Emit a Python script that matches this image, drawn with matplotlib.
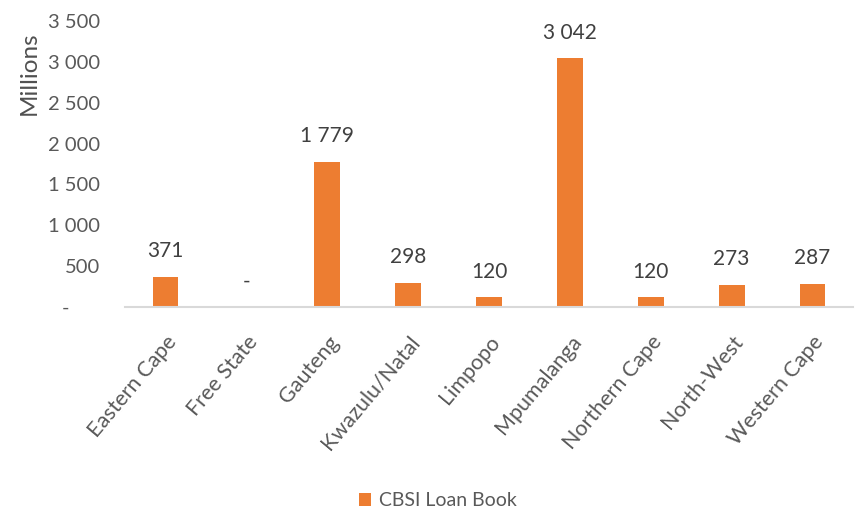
import matplotlib
matplotlib.use("Agg")
import matplotlib.pyplot as plt
from matplotlib.ticker import FuncFormatter

provinces = ["Eastern Cape", "Free State", "Gauteng", "Kwazulu/Natal", "Limpopo",
             "Mpumalanga", "Northern Cape", "North-West", "Western Cape"]
loan_book = [371, 0, 1779, 298, 120, 3042, 120, 273, 287]
series_name = "CBSI Loan Book"

plt.rcParams['font.family'] = ['Lato', 'DejaVu Sans']
grey = '#595959'
orange = '#ED7D31'


def fmt_num(v):
    if v == 0:
        return "-"
    return f"{int(round(v)):,}".replace(",", " ")


fig = plt.figure(figsize=(8.56, 5.15), dpi=100)
ax = fig.add_axes([125 / 856, 1 - 307 / 515, (853 - 125) / 856, (307 - 21) / 515])

x = range(len(provinces))
bars = ax.bar(x, loan_book, width=0.32, color=orange, label=series_name, zorder=2)

for xi, v in zip(x, loan_book):
    ax.annotate(fmt_num(v), (xi, v), xytext=(0, 11), textcoords='offset points',
                ha='center', va='bottom', fontsize=15, color='#404040')

ax.set_xlim(-0.5, len(provinces) - 0.5)
ax.set_ylim(0, 3500)
ax.set_yticks(range(0, 3501, 500))
ax.yaxis.set_major_formatter(FuncFormatter(lambda v, p: fmt_num(v) + ("      " if v == 0 else "")))
ax.set_xticks(list(x))
ax.set_xticklabels(provinces, rotation=50, ha='right', va='top', rotation_mode='anchor')

ax.tick_params(axis='y', length=0, pad=18, labelsize=14.5, labelcolor=grey)
ax.tick_params(axis='x', length=0, pad=18, labelsize=15.5, labelcolor=grey)

for side in ['top', 'right', 'left']:
    ax.spines[side].set_visible(False)
ax.spines['bottom'].set_color('#D9D9D9')
ax.spines['bottom'].set_linewidth(1.5)

fig.text(29 / 856, 1 - 73 / 515, "Millions", rotation=90, ha='center', va='center',
         fontsize=17.5, color='#505050')

fig.legend(handles=[bars], labels=[series_name], loc='center',
           bbox_to_anchor=(438 / 856, 1 - 501 / 515), frameon=False,
           fontsize=14, handlelength=0.6, handleheight=0.6, handletextpad=0.4,
           labelcolor=grey)

fig.savefig("out.png", dpi=100)
